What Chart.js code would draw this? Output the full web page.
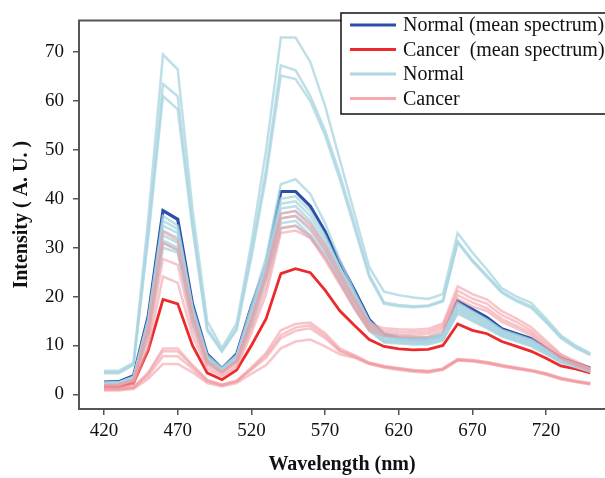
<!DOCTYPE html>
<html>
<head>
<meta charset="utf-8">
<script src="https://cdn.jsdelivr.net/npm/chart.js@4"></script>
<style>
  html, body { margin: 0; padding: 0; background: #fff; overflow: hidden; }
  #wrap { width: 605px; height: 478px; overflow: hidden; }
</style>
</head>
<body>
<div id="wrap"><canvas id="chart" width="605" height="478"></canvas></div>
<script>
const wavelengths = [420, 430, 440, 450, 460, 470, 480, 490, 500, 510, 520, 530, 540, 550, 560, 570, 580, 590, 600, 610, 620, 630, 640, 650, 660, 670, 680, 690, 700, 710, 720, 730, 740, 750]
const xTicks = [420, 470, 520, 570, 620, 670, 720]
const yTicks = [0, 10, 20, 30, 40, 50, 60, 70]

const normalMean = [2.5, 2.6, 3.8, 16, 37.6, 35.8, 18.5, 8.2, 5.3, 8.2, 18, 26.5, 41.5, 41.5, 38.5, 33.3, 27, 21.3, 15.3, 12.2, 11.5, 11.3, 11.3, 12.1, 19.1, 17.4, 15.7, 13.4, 12.4, 11.4, 9.4, 7.4, 6.4, 5.4]
const cancerMean = [1.6, 1.6, 2.3, 9, 19.4, 18.5, 10, 4.4, 3, 5, 10, 15.5, 24.7, 25.7, 24.9, 21.3, 17.1, 14.1, 11.2, 9.8, 9.3, 9.1, 9.2, 10, 14.4, 13.1, 12.4, 10.8, 9.8, 8.8, 7.4, 5.8, 5.2, 4.4]

const normalSpectra = [
  [4.8, 4.8, 6.5, 36, 69.5, 66.5, 38, 15, 9.5, 14.5, 31, 50, 73, 73, 68, 59, 48, 37, 26, 21, 20.3, 19.8, 19.5, 20.5, 33, 29, 25.5, 21.7, 20, 18.7, 15.5, 12.1, 10, 8.4],
  [4.5, 4.5, 6.2, 33, 63.5, 61, 35, 13.5, 9, 13.5, 29, 46, 67.3, 66.3, 61, 54, 45, 35, 24.5, 18.8, 18.3, 18, 18.2, 19.2, 31.3, 27.5, 24.3, 21, 19.3, 18, 15, 11.7, 9.7, 8.2],
  [4.3, 4.3, 6, 32, 61, 58.3, 34, 13, 8.7, 13.2, 28, 44.5, 65.2, 64.5, 60, 53, 44, 34, 24, 18.5, 18, 17.8, 18, 19, 31, 27.2, 24, 20.8, 19, 17.7, 14.7, 11.5, 9.5, 8],
  [2.4, 2.5, 3.6, 15.5, 36.5, 34.5, 18, 8, 5.4, 8, 18, 28, 43, 44, 41, 35, 27.5, 21, 15, 12.5, 12, 11.8, 11.7, 12.5, 18.8, 17, 15.3, 13.2, 12.2, 11.2, 9.3, 7.3, 6.3, 5.3],
  [2.3, 2.4, 3.5, 15, 35.5, 33.8, 17.5, 7.6, 5.1, 7.8, 17, 27, 40, 40.5, 37.5, 32.5, 26, 20.5, 14.8, 12, 11.6, 11.4, 11.4, 12.2, 18.5, 16.7, 15, 13, 12, 11, 9.1, 7.2, 6.2, 5.2],
  [2.2, 2.3, 3.4, 14.5, 34.5, 33, 17, 7.4, 5, 7.6, 16.5, 26.5, 39, 39.5, 36.5, 31.8, 25.5, 20, 14.5, 11.8, 11.4, 11.2, 11.2, 12, 18.2, 16.4, 14.8, 12.8, 11.8, 10.8, 9, 7.1, 6.1, 5.1],
  [2.2, 2.2, 3.3, 14, 33.5, 32, 16.5, 7.2, 4.9, 7.4, 16, 26, 38, 38.5, 35.5, 31, 25, 19.5, 14.2, 11.5, 11.2, 11, 11, 11.8, 17.8, 16.1, 14.5, 12.6, 11.6, 10.6, 8.8, 7, 6, 5],
  [2.1, 2.1, 3.2, 13.5, 32.5, 31, 16, 7, 4.8, 7.2, 15.5, 25, 37, 37.5, 34.5, 30.2, 24.5, 19, 13.8, 11.2, 11, 10.8, 10.8, 11.6, 17.5, 15.8, 14.2, 12.4, 11.4, 10.4, 8.6, 6.8, 5.9, 4.9],
  [2, 2, 3.1, 13, 31.5, 30, 15.5, 6.8, 4.7, 7, 15, 24.5, 36, 36.5, 33.5, 29.5, 24, 18.5, 13.5, 11, 10.8, 10.6, 10.6, 11.4, 17.2, 15.5, 14, 12.2, 11.2, 10.2, 8.5, 6.7, 5.8, 4.8],
  [1.9, 1.9, 3, 12.5, 31, 29.5, 15, 6.5, 4.6, 6.8, 14.5, 24, 35, 35.5, 32.5, 28.8, 23.5, 18, 13.2, 10.8, 10.6, 10.4, 10.4, 11.2, 16.8, 15.2, 13.7, 12, 11, 10, 8.3, 6.6, 5.7, 4.7],
  [1.9, 1.9, 2.9, 12, 30, 29, 14.5, 6.3, 4.5, 6.6, 14, 23.5, 34, 34.5, 32, 28.2, 23, 17.5, 13, 10.6, 10.4, 10.2, 10.2, 11, 16.5, 15, 13.5, 11.8, 10.8, 9.8, 8.2, 6.5, 5.6, 4.6],
]

const cancerSpectra = [
  [1.9, 2, 3, 14, 33.3, 31.5, 16.5, 7, 4.6, 7, 15.5, 25, 37, 37.5, 35, 30.5, 25, 19.5, 14.5, 13.5, 13.3, 13.2, 13.4, 14.5, 22.1, 20.5, 19.4, 17, 15.5, 13.7, 11, 8.2, 6.8, 5.4],
  [1.8, 1.9, 2.8, 13, 31, 29.5, 15.5, 6.5, 4.4, 6.7, 15, 24, 36, 36.5, 34, 29.5, 24, 19, 14, 13, 12.8, 12.7, 12.9, 14, 21.2, 19.6, 18.5, 16.2, 14.8, 13, 10.5, 8, 6.5, 5.2],
  [1.5, 1.5, 2.3, 11, 27.7, 26.5, 13.5, 5.8, 4, 6, 13.5, 22, 34, 34.5, 32.5, 28, 23, 18, 13.5, 12.5, 12.3, 12.2, 12.4, 13.5, 20.3, 18.8, 17.6, 15.4, 14, 12.5, 10, 7.6, 6.2, 5],
  [1.3, 1.3, 2, 9.5, 24.1, 22.8, 12, 5.2, 3.6, 5.5, 12.5, 20.5, 33, 33.5, 32, 27.5, 22.5, 17.5, 13, 12, 11.8, 11.7, 11.8, 13, 19.5, 18, 17, 14.8, 13.5, 12, 9.6, 7.3, 6, 4.8],
  [1.2, 1.2, 1.5, 4.5, 9.4, 9.4, 6, 3, 2, 2.8, 5.5, 8.5, 13.1, 14.4, 14.7, 12.5, 9.4, 8, 6.5, 5.8, 5.4, 5, 4.8, 5.3, 7.2, 7, 6.6, 6, 5.5, 5, 4.3, 3.4, 2.8, 2.3],
  [1.1, 1.1, 1.4, 4.2, 8.8, 8.8, 5.7, 2.8, 1.9, 2.7, 5.2, 8, 12.1, 13.7, 14.1, 12, 9, 7.8, 6.4, 5.7, 5.3, 4.9, 4.7, 5.2, 7.1, 6.9, 6.5, 5.9, 5.4, 4.9, 4.2, 3.3, 2.7, 2.2],
  [1, 1, 1.3, 3.8, 7.8, 7.8, 5.2, 2.6, 1.8, 2.6, 5, 7.5, 11.5, 13, 13.5, 11.5, 8.8, 7.6, 6.3, 5.6, 5.2, 4.8, 4.6, 5.1, 7, 6.8, 6.4, 5.8, 5.3, 4.8, 4.1, 3.2, 2.6, 2.1],
  [0.8, 0.8, 1.1, 3.2, 6.2, 6.2, 4.5, 2.3, 1.6, 2.3, 4.2, 6, 9.4, 10.8, 11.2, 9.8, 8.2, 7.5, 6.2, 5.5, 5, 4.6, 4.4, 5, 6.9, 6.7, 6.3, 5.7, 5.2, 4.7, 4, 3.1, 2.5, 2],
]

const NORMAL_MEAN = '#2b4fa6'
const CANCER_MEAN = '#ec2a2d'
const NORMAL_LIGHT = 'rgba(168, 212, 224, 0.75)'
const CANCER_LIGHT = 'rgba(240, 152, 158, 0.55)'
const SERIF = "'Liberation Serif', 'DejaVu Serif', serif"

const toPoints = (values) => wavelengths.map((w, i) => ({ x: w, y: values[i] }))

const lineSet = (label, values, color, width) => ({
  label,
  data: toPoints(values),
  borderColor: color,
  borderWidth: width,
  pointRadius: 0,
  tension: 0,
  fill: false,
})

const datasets = [
  ...cancerSpectra.map((s) => lineSet('Cancer', s, CANCER_LIGHT, 2.5)),
  ...normalSpectra.map((s) => lineSet('Normal', s, NORMAL_LIGHT, 2.5)),
  lineSet('Cancer  (mean spectrum)', cancerMean, CANCER_MEAN, 2.8),
  lineSet('Normal (mean spectrum)', normalMean, NORMAL_MEAN, 3.2),
]

// top / left / bottom frame lines
const frame = {
  id: 'frame',
  afterDatasetsDraw(chart) {
    const { ctx, chartArea: a } = chart
    ctx.save()
    ctx.strokeStyle = '#555'
    ctx.lineWidth = 2
    ctx.beginPath()
    ctx.moveTo(a.right + 10, a.top)
    ctx.lineTo(a.left, a.top)
    ctx.lineTo(a.left, a.bottom)
    ctx.lineTo(a.right + 10, a.bottom)
    ctx.stroke()
    ctx.restore()
  },
}

// boxed legend in the top right corner
const legendBox = {
  id: 'legendBox',
  afterDraw(chart) {
    const { ctx } = chart
    const entries = [
      ['Normal (mean spectrum)', NORMAL_MEAN],
      ['Cancer  (mean spectrum)', CANCER_MEAN],
      ['Normal', 'rgb(172, 214, 226)'],
      ['Cancer', 'rgb(244, 170, 175)'],
    ]
    ctx.save()
    ctx.fillStyle = '#fff'
    ctx.fillRect(341, 13, 300, 101)
    ctx.strokeStyle = '#111'
    ctx.lineWidth = 1.5
    ctx.strokeRect(341, 13, 300, 101)
    ctx.font = '20px ' + SERIF
    ctx.textBaseline = 'middle'
    entries.forEach(([text, color], i) => {
      const y = 25 + i * 24.5
      ctx.strokeStyle = color
      ctx.lineWidth = 3
      ctx.beginPath()
      ctx.moveTo(350, y)
      ctx.lineTo(396, y)
      ctx.stroke()
      ctx.fillStyle = '#111'
      ctx.fillText(text, 403, y + 1)
    })
    ctx.restore()
  },
}

new Chart(document.getElementById('chart'), {
  type: 'line',
  data: { datasets },
  plugins: [frame, legendBox],
  options: {
    responsive: false,
    animation: false,
    maintainAspectRatio: false,
    layout: { padding: { top: 10, left: 0, right: 0, bottom: 0 } },
    plugins: { legend: { display: false }, tooltip: { enabled: false } },
    scales: {
      x: {
        type: 'linear',
        min: 403,
        max: 760,
        afterBuildTicks: (scale) => {
          scale.ticks = xTicks.map((v) => ({ value: v }))
        },
        afterFit: (scale) => {
          scale.height = 69
        },
        border: { display: false },
        grid: { drawOnChartArea: false, drawTicks: true, tickLength: 6, color: '#555', lineWidth: 1.5 },
        ticks: { color: '#111', font: { family: SERIF, size: 19 }, padding: 5, maxRotation: 0 },
        title: {
          display: true,
          text: 'Wavelength (nm)',
          color: '#111',
          font: { family: SERIF, size: 20, weight: 'bold' },
          padding: { top: 0, bottom: 1 },
        },
      },
      y: {
        min: -3,
        max: 76.5,
        afterBuildTicks: (scale) => {
          scale.ticks = yTicks.map((v) => ({ value: v }))
        },
        afterFit: (scale) => {
          scale.width = 79
        },
        border: { display: false },
        grid: { drawOnChartArea: false, drawTicks: true, tickLength: 6, color: '#555', lineWidth: 1.5 },
        ticks: { color: '#111', font: { family: SERIF, size: 19 }, padding: 9 },
        title: {
          display: true,
          text: 'Intensity ( A. U. )',
          color: '#111',
          font: { family: SERIF, size: 20, weight: 'bold' },
          padding: { top: 10, bottom: 0 },
        },
      },
    },
  },
})
</script>
</body>
</html>
